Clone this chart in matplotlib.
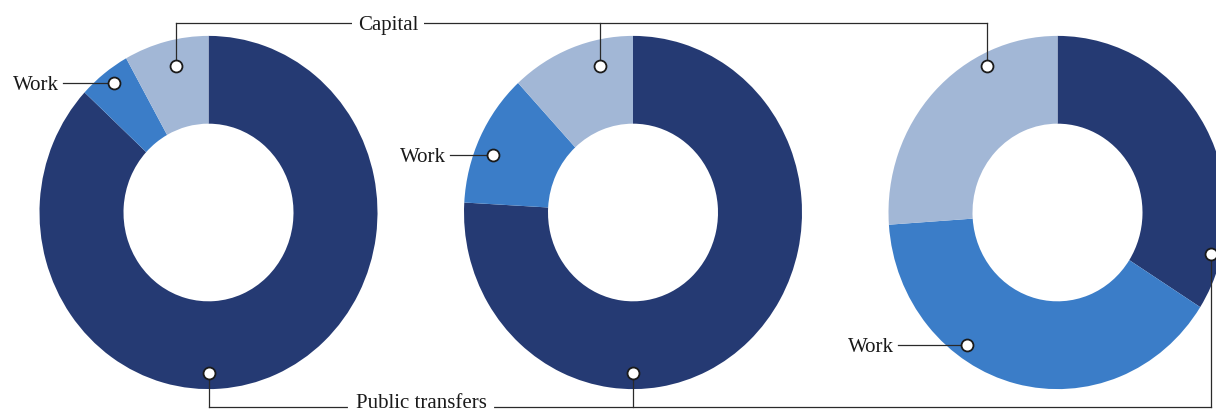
import matplotlib.pyplot as plt

# share of household income by source, one donut per group
sources = ['Public transfers', 'Work', 'Capital']
group1 = [86.9, 5.0, 8.1]
group2 = [75.9, 12.2, 11.9]
group3 = [34.0, 39.9, 26.1]
colors = ['#253a73', '#3b7dc8', '#a2b7d6']

W, H = 1216, 414
SY = 1.045  # the donuts are a bit taller than wide

plt.rcParams['font.family'] = ['Liberation Serif', 'DejaVu Serif']

fig = plt.figure(figsize=(W / 100, H / 100), dpi=100)
ax = fig.add_axes([0, 0, 1, 1])


def Y(y):  # picture pixels (top down) -> data units
    return (H - y) / SY


centers = [208.5, 633, 1057.5]
for cx, vals in zip(centers, [group1, group2, group3]):
    ax.pie(vals, colors=colors, startangle=90, counterclock=False,
           radius=169, center=(cx, Y(213.5)), frame=False,
           wedgeprops=dict(width=84, linewidth=0))

ax.set_aspect('auto')
ax.set_xlim(0, W)
ax.set_ylim(0, H / SY)
ax.axis('off')

lc = '#2a2a2a'
box = dict(boxstyle='square,pad=0.3', fc='white', ec='none')
fs = 15


def marker(x, y):
    ax.plot(x, Y(y), 'o', ms=8.6, mfc='white', mec='#1a1a1a', mew=1.3, zorder=5)


# Capital callout (top)
cap_pts = [(175.7, 67.3), (600, 67.3), (987, 67.3)]
ly = 23.5
ax.plot([cap_pts[0][0], cap_pts[-1][0]], [Y(ly), Y(ly)], color=lc, lw=0.9, zorder=2)
for x, y in cap_pts:
    ax.plot([x, x], [Y(ly), Y(y)], color=lc, lw=0.9, zorder=2)
    marker(x, y)
ax.text(388, Y(ly + 6.5), 'Capital', ha='center', va='baseline', fontsize=fs,
        color='#1a1a1a', bbox=box, zorder=3)

# Public transfers callout (bottom)
pub_pts = [(209, 374.3), (633.3, 374.3), (1211, 255)]
ly = 407.5
ax.plot([pub_pts[0][0], pub_pts[-1][0]], [Y(ly), Y(ly)], color=lc, lw=0.9, zorder=2)
for x, y in pub_pts:
    ax.plot([x, x], [Y(ly), Y(y)], color=lc, lw=0.9, zorder=2)
    marker(x, y)
# white gap in the line behind the label
ax.plot([350, 492], [Y(ly), Y(ly)], color='white', lw=3, zorder=2.5)
ax.text(421, Y(413.5), 'Public transfers', ha='center', va='bottom', fontsize=fs,
        color='#1a1a1a', zorder=3)

# Work callouts (one per donut)
work_pts = [(114, 83.5), (493.3, 156), (966.7, 345.7)]
work_txt = [59, 445.7, 894.3]
for (x, y), tx in zip(work_pts, work_txt):
    ax.plot([tx + 4, x], [Y(y), Y(y)], color=lc, lw=0.9, zorder=2)
    marker(x, y)
    ax.text(tx, Y(y + 6.5), 'Work', ha='right', va='baseline', fontsize=fs,
            color='#1a1a1a', zorder=3)

fig.savefig('out.png', dpi=100)
